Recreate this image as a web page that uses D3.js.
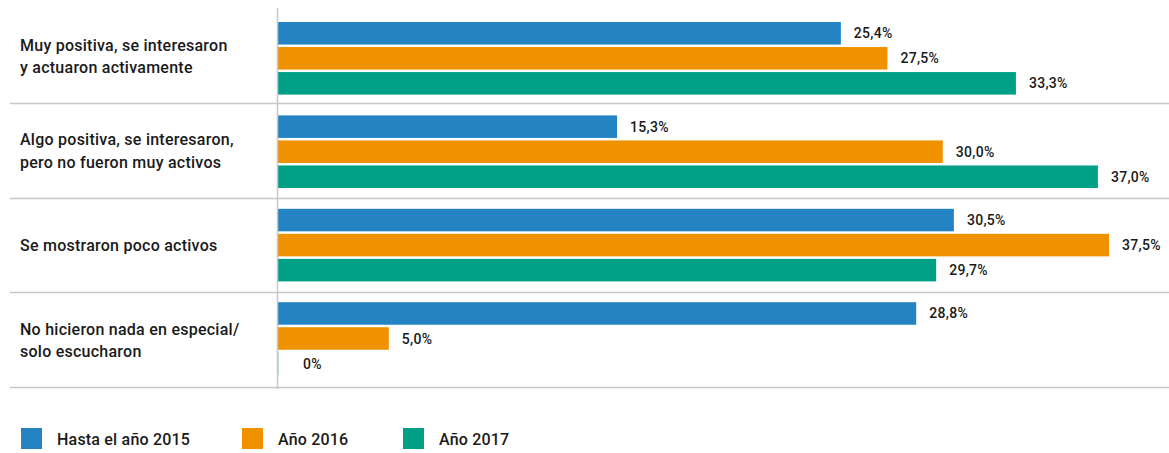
<!DOCTYPE html>
<html><head><meta charset="utf-8">
<script src="https://cdn.jsdelivr.net/npm/d3@7"></script>
<style>
body{margin:0;background:#fff;}
text{font-family:Roboto,"DejaVu Sans",sans-serif;fill:#1a1a1a;}
</style></head>
<body><svg id="c" width="1169" height="453"></svg>
<script>
const categories = [
  ["Muy positiva, se interesaron","y actuaron activamente"],
  ["Algo positiva, se interesaron,","pero no fueron muy activos"],
  ["Se mostraron poco activos"],
  ["No hicieron nada en especial/","solo escucharon"]
];
const seriesNames = ["Hasta el año 2015","Año 2016","Año 2017"];
const colors = ["#2383c3","#f09200","#00a086"];
const s2015 = [25.4,15.3,30.5,28.8];
const s2016 = [27.5,30.0,37.5,5.0];
const s2017 = [33.3,37.0,29.7,0];
const series = [s2015,s2016,s2017];

const svg = d3.select("#c");
const x0 = 278;
const x = d3.scaleLinear().domain([0,37.5]).range([x0,1109]);
// bands for separators / labels
const yGroup = d3.scaleBand().domain(d3.range(categories.length)).range([9,388]).padding(0);
// bands for bar blocks
const yBars = d3.scaleBand().domain(d3.range(categories.length)).range([22,22+93.4*4]).paddingInner(0).paddingOuter(0);
const ySub = d3.scaleBand().domain(d3.range(3)).range([0,72.6]).paddingInner(0.1);

const fmt = v => v===0 ? "0%" : d3.format(".1f")(v).replace(".",",")+"%";

// separators
svg.selectAll("line.sep").data(categories).join("line")
  .attr("x1",10).attr("x2",1169)
  .attr("y1",(d,i)=>Math.round(yGroup(i)+yGroup.bandwidth())-0.5)
  .attr("y2",(d,i)=>Math.round(yGroup(i)+yGroup.bandwidth())-0.5)
  .attr("stroke","#c8c8c8").attr("stroke-width",1.5);

// category labels
categories.forEach((cat,gi)=>{
  const n = cat.length;
  const mid = yGroup(gi) + yGroup.bandwidth()/2 + 5.5;
  cat.forEach((line,li)=>{
    svg.append("text").attr("x",20).attr("y",mid + (li-(n-1)/2)*22.5)
      .attr("font-size",16).attr("letter-spacing",0.25).attr("font-weight",500).text(line);
  });
});

// bars
const g = svg.selectAll("g.grp").data(categories).join("g")
  .attr("transform",(d,i)=>`translate(0,${yBars(i)})`);
g.each(function(cat,gi){
  const gg = d3.select(this);
  series.forEach((s,si)=>{
    const v = s[gi];
    gg.append("rect").attr("x",x(0)).attr("y",ySub(si))
      .attr("width",Math.max(x(v)-x(0),v===0?1:0)).attr("height",ySub.bandwidth())
      .attr("fill",v===0?"#b9e0d8":colors[si]);
    gg.append("text").attr("x",x(v)+(v===0?25:13)).attr("y",ySub(si)+ySub.bandwidth()/2)
      .attr("dy","0.36em").attr("font-size",14).attr("letter-spacing",0.3).attr("font-weight",500).text(fmt(v));
  });
});

// axis line
svg.append("line").attr("x1",x0-0.5).attr("x2",x0-0.5).attr("y1",8).attr("y2",389)
  .attr("stroke","#c8c8c8").attr("stroke-width",1.5);

// legend
const legX = [21,242,403];
const leg = svg.selectAll("g.leg").data(seriesNames).join("g")
  .attr("transform",(d,i)=>`translate(${legX[i]},428)`);
leg.append("rect").attr("width",21).attr("height",21).attr("fill",(d,i)=>colors[i]);
leg.append("text").attr("x",36).attr("y",11).attr("dy","0.36em")
  .attr("font-size",16).attr("letter-spacing",0.2).attr("font-weight",500).text(d=>d);
</script></body></html>
